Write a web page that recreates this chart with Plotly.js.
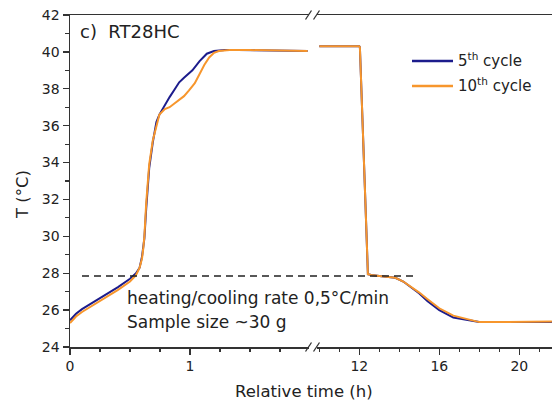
<!DOCTYPE html>
<html>
<head>
<meta charset="utf-8">
<script src="https://cdn.plot.ly/plotly-3.0.1.min.js"></script>
<style>html,body{margin:0;padding:0;background:#fff;}#chart{width:552px;height:403px;}</style>
</head>
<body>
<div id="chart"></div>
<script>
// ---- data (time in hours, temperature in °C) ----
// heating segment, 0–2 h
var tHeat5  = [0, 0.05, 0.1, 0.2, 0.3, 0.4, 0.5, 0.55, 0.58, 0.6, 0.61, 0.62, 0.635, 0.66, 0.69, 0.72, 0.745, 0.77, 0.83, 0.87, 0.91, 0.95, 0.99, 1.02, 1.08, 1.14, 1.2, 1.29, 1.4, 1.6, 1.8, 1.98];
var THeat5  = [25.45, 25.8, 26.05, 26.45, 26.85, 27.25, 27.7, 28.0, 28.3, 28.9, 29.4, 29.9, 31.5, 33.7, 35.1, 36.2, 36.6, 36.9, 37.55, 37.95, 38.35, 38.6, 38.8, 39.0, 39.5, 39.9, 40.05, 40.1, 40.1, 40.08, 40.1, 40.05];
var tHeat10 = [0, 0.05, 0.1, 0.2, 0.3, 0.4, 0.5, 0.55, 0.58, 0.6, 0.61, 0.62, 0.635, 0.66, 0.69, 0.72, 0.745, 0.79, 0.83, 0.87, 0.91, 0.95, 0.99, 1.04, 1.08, 1.12, 1.16, 1.2, 1.24, 1.33, 1.5, 1.7, 1.85, 1.98];
var THeat10 = [25.3, 25.65, 25.9, 26.3, 26.7, 27.1, 27.55, 27.9, 28.3, 28.8, 29.3, 30.0, 31.8, 33.9, 35.2, 36.0, 36.6, 36.9, 37.0, 37.2, 37.4, 37.6, 37.9, 38.3, 38.8, 39.3, 39.7, 39.95, 40.05, 40.1, 40.1, 40.08, 40.1, 40.05];
// holding + cooling segment, 10–21.6 h
var tCool   = [10.0, 11.0, 12.0, 12.03, 12.1, 12.2, 12.3, 12.43, 12.6, 13.0, 13.5, 13.8, 14.2, 14.7, 15.0, 15.4, 16.0, 16.7, 17.4, 18.0, 19.0, 20.0, 21.0, 21.63];
var TCool5  = [40.3, 40.3, 40.3, 40.25, 38.3, 35.5, 32.0, 27.95, 27.9, 27.85, 27.8, 27.75, 27.55, 27.15, 26.9, 26.5, 26.0, 25.6, 25.45, 25.35, 25.35, 25.35, 25.35, 25.35];
var TCool10 = [40.3, 40.3, 40.3, 40.25, 38.3, 35.5, 32.0, 27.95, 27.9, 27.85, 27.8, 27.75, 27.55, 27.2, 26.95, 26.6, 26.1, 25.7, 25.5, 25.35, 25.35, 25.35, 25.35, 25.38];
var seriesNames = ['5<sup>th</sup> cycle', '10<sup>th</sup> cycle'];
var transitionT = 27.85;
var yTicks = [24, 26, 28, 30, 32, 34, 36, 38, 40, 42];

var navy = '#1c1c8c', orange = '#f7962c', ink = '#222';
var FONT = 'DejaVu Sans, Arial, sans-serif';
var L = 70, W = 482, T = 15, H = 332;
function px(x){ return (x - L) / W; }
function py(y){ return (T + H - y) / H; }

var traces = [
  {x: tHeat5,  y: THeat5,  xaxis: 'x',  yaxis: 'y', mode: 'lines', line: {color: navy,   width: 2}},
  {x: tCool,   y: TCool5,  xaxis: 'x2', yaxis: 'y', mode: 'lines', line: {color: navy,   width: 2}},
  {x: tHeat10, y: THeat10, xaxis: 'x',  yaxis: 'y', mode: 'lines', line: {color: orange, width: 2}},
  {x: tCool,   y: TCool10, xaxis: 'x2', yaxis: 'y', mode: 'lines', line: {color: orange, width: 2}}
];

var axisCommon = {
  showline: true, linecolor: '#333', linewidth: 1.5, mirror: true,
  showgrid: false, zeroline: false,
  ticks: 'outside', ticklen: 6, tickwidth: 1.3, tickcolor: '#333',
  tickfont: {family: FONT, size: 14, color: ink},
  minor: {ticks: 'outside', ticklen: 3.5, tickwidth: 1.2, tickcolor: '#333'}
};

var leftEnd = px(309), rightStart = px(317);

var layout = {
  width: 552, height: 403,
  margin: {l: L, r: 0, t: T, b: 403 - T - H},
  paper_bgcolor: '#fff', plot_bgcolor: '#fff',
  showlegend: false,
  font: {family: FONT, color: ink},
  xaxis: Object.assign({}, axisCommon, {
    domain: [0, leftEnd], range: [0, (309 - L) / 120], anchor: 'y',
    tickmode: 'linear', tick0: 0, dtick: 1,
    minor: Object.assign({}, axisCommon.minor, {dtick: 0.25})
  }),
  xaxis2: Object.assign({}, axisCommon, {
    domain: [rightStart, 1], range: [12 - (359.3 - 317) / 20, 12 + (552 - 359.3) / 20], anchor: 'y',
    tickmode: 'linear', tick0: 0, dtick: 4,
    minor: Object.assign({}, axisCommon.minor, {dtick: 1})
  }),
  yaxis: Object.assign({}, axisCommon, {
    range: [24, 42], mirror: false, tickvals: yTicks,
    minor: Object.assign({}, axisCommon.minor, {dtick: 1})
  }),
  shapes: [
    // transition temperature dashed line
    {type: 'line', xref: 'paper', yref: 'y', x0: px(82), x1: px(418), y0: transitionT, y1: transitionT,
     line: {color: '#222', width: 1.5, dash: '7px,5px'}},
    // axis break marks (top and bottom)
    {type: 'line', xref: 'paper', yref: 'paper', x0: px(305.5), x1: px(311.5), y0: py(19.5), y1: py(10.5), line: {color: '#333', width: 1.3}},
    {type: 'line', xref: 'paper', yref: 'paper', x0: px(313.5), x1: px(319.5), y0: py(19.5), y1: py(10.5), line: {color: '#333', width: 1.3}},
    {type: 'line', xref: 'paper', yref: 'paper', x0: px(305.5), x1: px(311.5), y0: py(351.5), y1: py(342.5), line: {color: '#333', width: 1.3}},
    {type: 'line', xref: 'paper', yref: 'paper', x0: px(313.5), x1: px(319.5), y0: py(351.5), y1: py(342.5), line: {color: '#333', width: 1.3}},
    // legend keys
    {type: 'line', xref: 'paper', yref: 'paper', x0: px(412), x1: px(453), y0: py(61), y1: py(61), line: {color: navy, width: 2.5}},
    {type: 'line', xref: 'paper', yref: 'paper', x0: px(412), x1: px(453), y0: py(86), y1: py(86), line: {color: orange, width: 2.5}}
  ],
  annotations: [
    {xref: 'paper', yref: 'paper', x: px(78), y: py(31), xanchor: 'left', yanchor: 'middle', showarrow: false,
     text: 'c)  RT28HC', font: {family: FONT, size: 18, color: ink}},
    {xref: 'paper', yref: 'paper', x: px(456), y: py(60), xanchor: 'left', yanchor: 'middle', showarrow: false,
     text: seriesNames[0], font: {family: FONT, size: 15, color: ink}},
    {xref: 'paper', yref: 'paper', x: px(456), y: py(85), xanchor: 'left', yanchor: 'middle', showarrow: false,
     text: seriesNames[1], font: {family: FONT, size: 15, color: ink}},
    {xref: 'paper', yref: 'paper', x: px(125), y: py(298), xanchor: 'left', yanchor: 'middle', showarrow: false,
     text: 'heating/cooling rate 0,5°C/min', font: {family: FONT, size: 17, color: ink}},
    {xref: 'paper', yref: 'paper', x: px(125), y: py(322), xanchor: 'left', yanchor: 'middle', showarrow: false,
     text: 'Sample size ~30 g', font: {family: FONT, size: 17, color: ink}},
    {xref: 'paper', yref: 'paper', x: px(303.5), y: py(392), xanchor: 'center', yanchor: 'middle', showarrow: false,
     text: 'Relative time (h)', font: {family: FONT, size: 16.5, color: ink}},
    {xref: 'paper', yref: 'paper', x: px(22), y: py(195), xanchor: 'center', yanchor: 'middle', showarrow: false, textangle: -90,
     text: 'T (°C)', font: {family: FONT, size: 16.5, color: ink}}
  ]
};

Plotly.newPlot('chart', traces, layout, {staticPlot: true, displayModeBar: false});
</script>
</body>
</html>
